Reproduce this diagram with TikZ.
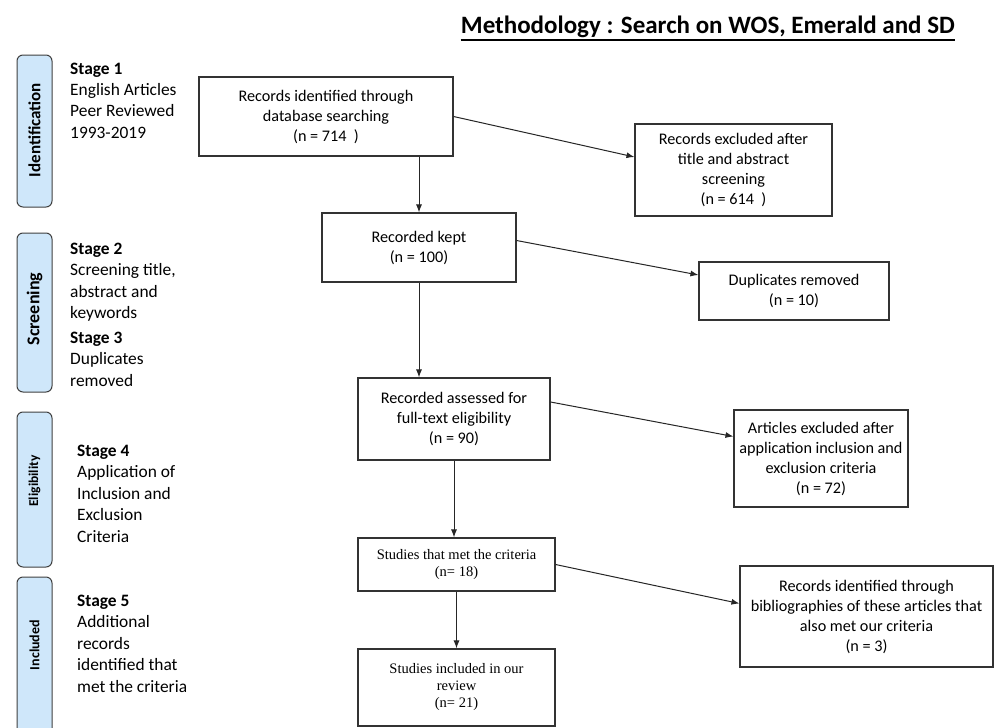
\documentclass[tikz,border=0pt]{standalone}
\usepackage{fontspec}
\setmainfont{Carlito}
\newfontfamily\timesf{Liberation Serif}
\usetikzlibrary{arrows.meta}
\definecolor{barblue}{HTML}{CFE7FA}
\definecolor{linegray}{HTML}{333333}
\begin{document}
\begin{tikzpicture}[x=1pt,y=-1pt,
  box/.style={draw=linegray,line width=1.1pt,inner sep=0pt,align=center,font=\fontsize{16.2}{20}\selectfont},
  tbox/.style={box,font=\timesf\fontsize{14.5}{17}\selectfont},
  bar/.style={draw=black!75,fill=barblue,line width=1pt,rounded corners=6pt},
  barlabel/.style={rotate=90,inner sep=0pt},
  stagetxt/.style={anchor=base west,inner sep=0pt,font=\fontsize{17.4}{21.5}\selectfont},
  arr/.style={draw=black!85,line width=1pt,-{Latex[length=8pt,width=6pt]}}
]
\fill[white] (0,0) rectangle (996,728);
\useasboundingbox (0,0) rectangle (996,728);
\clip (0,0) rectangle (996,728);

% title
\node[anchor=base east,font=\bfseries\fontsize{25}{28}\selectfont,inner sep=0pt] (title) at (955,33) {Methodology : Search on WOS, Emerald and SD};
\draw[line width=2pt] ([yshift=-6.5pt]title.base west) -- ([yshift=-6.5pt]title.base east);

% side bars
\draw[bar] (17,55) rectangle (52,207);
\draw[bar] (17,233) rectangle (52,392);
\draw[bar] (17,412) rectangle (52,567);
\draw[bar] (17,577) rectangle (52,745);
\node[barlabel,font=\bfseries\fontsize{17}{18}\selectfont] (l1) at (34.5,130) {Identification};
\node[barlabel,font=\bfseries\fontsize{18}{19}\selectfont] (l2) at (34.5,309) {Screening};
\node[barlabel,font=\bfseries\fontsize{13.5}{15}\selectfont] (l3) at (34.5,481) {Eligibility};
\node[barlabel,font=\bfseries\fontsize{14}{15}\selectfont] (l4) at (34.5,645) {Included};

% stage texts
\node[stagetxt] (s1) at (70,74) {\vtop{\hbox{\textbf{Stage 1}}\hbox{English Articles}\hbox{Peer Reviewed}\hbox{1993-2019}}};
\node[stagetxt] (s2) at (70,254) {\vtop{\hbox{\textbf{Stage 2}}\hbox{Screening title,}\hbox{abstract and}\hbox{keywords}}};
\node[stagetxt] (s3) at (70,343) {\vtop{\hbox{\textbf{Stage 3}}\hbox{Duplicates}\hbox{removed}}};
\node[stagetxt] (s4) at (77,456) {\vtop{\hbox{\textbf{Stage 4}}\hbox{Application of}\hbox{Inclusion and}\hbox{Exclusion}\hbox{Criteria}}};
\node[stagetxt] (s5) at (77,606) {\vtop{\hbox{\textbf{Stage 5}}\hbox{Additional}\hbox{records}\hbox{identified that}\hbox{met the criteria}}};

% boxes
\node[box,minimum width=254pt,minimum height=79pt] (A) at (326,116.5) {Records identified through\\database searching\\(n = 714\ \ )};
\node[box,minimum width=197pt,minimum height=92pt] (B) at (733.5,170) {Records excluded after\\title and abstract\\screening\\(n = 614\ \ )};
\node[box,minimum width=194pt,minimum height=69pt] (C) at (419,247.5) {Recorded kept\\(n = 100)};
\node[box,minimum width=190pt,minimum height=58pt] (D) at (794,291) {Duplicates removed\\(n = 10)};
\node[box,minimum width=192pt,minimum height=82pt] (E) at (454,419) {Recorded assessed for\\full-text eligibility\\(n = 90)};
\node[box,minimum width=174pt,minimum height=97pt] (F) at (821,458.5) {Articles excluded after\\application inclusion and\\exclusion criteria\\(n = 72)};
\node[tbox,minimum width=197pt,minimum height=53pt] (G) at (456.5,564.5) {Studies that met the criteria\\(n= 18)};
\node[tbox,minimum width=197pt,minimum height=77pt] (H) at (456.5,687.5) {Studies included in our\\review\\(n= 21)};
\node[box,minimum width=253pt,minimum height=101pt] (I) at (866.5,616.5) {Records identified through\\bibliographies of these articles that\\also met our criteria\\(n = 3)};

% connectors
\draw[arr] (A.east) -- ([yshift=13pt]B.west);
\draw[arr] (C.north |- A.south) -- (C.north);
\draw[arr] ([yshift=7pt]C.east) -- ([yshift=16pt]D.west);
\draw[arr] (C.south) -- (C.south |- E.north);
\draw[arr] ([yshift=17pt]E.east) -- ([yshift=22pt]F.west);
\draw[arr] (E.south) -- (E.south |- G.north);
\draw[arr] (G.east) -- ([yshift=13pt]I.west);
\draw[arr] (G.south) -- (H.north);
\end{tikzpicture}
\end{document}
